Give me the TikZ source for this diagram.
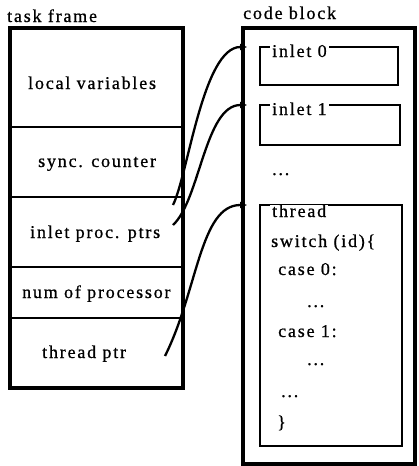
\documentclass[tikz,border=0pt]{standalone}
\usepackage{fontspec}
\setmainfont{Liberation Serif}[LetterSpace=10, FakeBold=0.8]
\usetikzlibrary{arrows.meta}
\begin{document}
\begin{tikzpicture}[x=1pt,y=-1pt,
  txt/.style={inner sep=0pt, anchor=base west, font=\fontsize{18}{20}\selectfont},
  lbl/.style={txt, fill=white, inner xsep=2pt, inner ysep=0pt},
  outer/.style={draw, line width=3.5pt},
  cellline/.style={line width=2.4pt},
  inner/.style={draw, line width=2.4pt},
  ptr/.style={line width=2.3pt, -{Triangle[length=7pt,width=6pt]}},
]
\useasboundingbox (0,0) rectangle (418,466);

% task frame
\node[txt] (tflabel) at (7,22) {task frame};
\draw[outer] (10,28) rectangle (183,388);
\draw[cellline] (10,127) -- (183,127);
\draw[cellline] (10,197) -- (183,197);
\draw[cellline] (10,267) -- (183,267);
\draw[cellline] (10,318) -- (183,318);
\node[txt] (lv) at (28,89) {local variables};
\node[txt] (sc) at (38,167) {sync. counter};
\node[txt] (ipp) at (30,238) {inlet proc. ptrs};
\node[txt] (np) at (22,298) {num of processor};
\node[txt] (tp) at (42,358) {thread ptr};

% code block
\node[txt] (cblabel) at (243,19) {code block};
\draw[outer] (243,28) rectangle (415,464);
\draw[inner] (260,47) rectangle (398,85);
\draw[inner] (260,105) rectangle (400,145);
\draw[inner] (260,205) rectangle (402,446);
\node[lbl] (in0) at (270,57) {inlet 0};
\node[lbl] (in1) at (270,115) {inlet 1};
\node[txt] (dots0) at (272,175) {...};
\node[lbl] (thr) at (270,217) {thread};
\node[txt] (sw) at (271,247) {switch (id)\{};
\node[txt] (c0) at (278,275) {case 0:};
\node[txt] (d1) at (307,307) {...};
\node[txt] (c1) at (278,337) {case 1:};
\node[txt] (d2) at (307,365) {...};
\node[txt] (d3) at (281,397) {...};
\node[txt] (cb) at (277,428) {\}};

% pointers
\coordinate (s1) at (173,205);
\coordinate (s2) at (173,225);
\coordinate (s3) at (165,356);
\coordinate (e1) at (247,47);
\coordinate (e2) at (247,105);
\coordinate (e3) at (247,205);
\draw[ptr] (s1) .. controls (188,175) and (203,47) .. (e1);
\draw[ptr] (s2) .. controls (200,200) and (205,105) .. (e2);
\draw[ptr] (s3) .. controls (198,290) and (200,205) .. (e3);
\end{tikzpicture}
\end{document}
